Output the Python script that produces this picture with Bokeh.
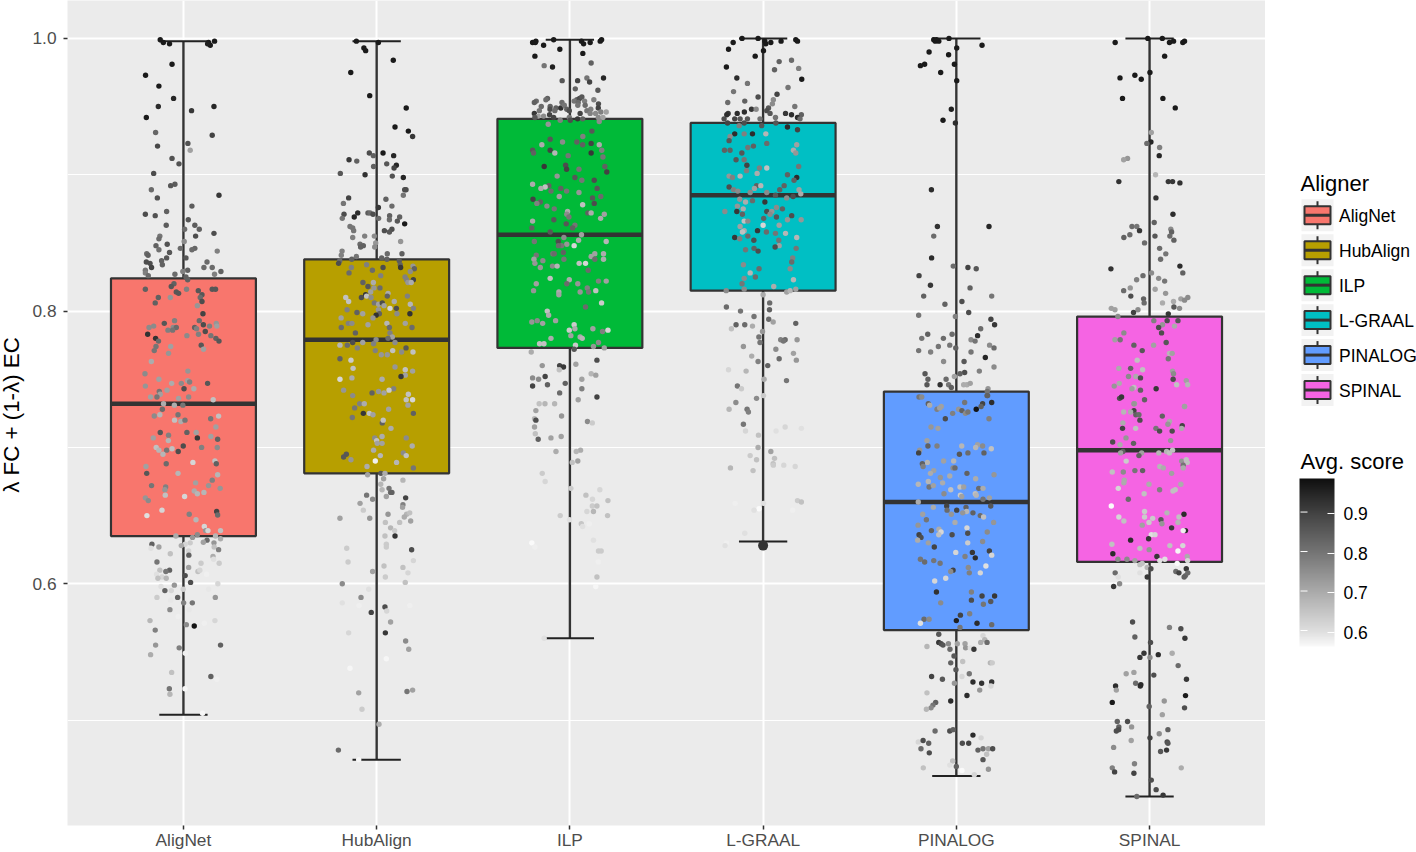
import numpy as np
from math import pi
from bokeh.plotting import figure
from bokeh.layouts import row
from bokeh.models import (ColumnDataSource, LinearColorMapper, ColorBar, FixedTicker, Range1d)
from bokeh.core.properties import value
from bokeh.embed import file_html
from bokeh.resources import INLINE

aligners = ["AligNet", "HubAlign", "ILP", "L-GRAAL", "PINALOG", "SPINAL"]
box_colors = ["#F8766D", "#B79F00", "#00BA38", "#00BFC4", "#619CFF", "#F564E3"]
q1 = [0.635, 0.681, 0.773, 0.815, 0.566, 0.616]
median = [0.732, 0.779, 0.856, 0.885, 0.660, 0.698]
q3 = [0.824, 0.838, 0.941, 0.938, 0.741, 0.796]
whisker_low = [0.504, 0.471, 0.560, 0.631, 0.459, 0.444]
whisker_high = [0.998, 0.998, 0.999, 1.000, 1.000, 1.000]
outlier_x = [3]
outlier_y = [0.628]
y_ticks = [0.6, 0.8, 1.0]
y_minor = [0.5, 0.7, 0.9]
score_ticks = [0.6, 0.7, 0.8, 0.9]

# jittered points: (offset from category centre, value, average score)
alignet_points = [
(-.12,.999,.97),(-.104,.997,.97),(-.072,.996,.97),(.13,.997,.97),(.139,.995,.97),(.161,.998,.97),(.125,.996,.96),
(-.059,.981,.97),(-.196,.973,.97),(-.127,.965,.97),(-.051,.956,.95),(-.13,.95,.94),(.158,.95,.95),(.042,.947,.92),(-.192,.942,.97),
(-.144,.931,.83),(.149,.929,.9),(-.134,.921,.89),(.023,.923,.87),(.035,.918,.72),(-.059,.912,.87),(-.023,.908,.87),(-.154,.901,.88),
(-.044,.893,.85),(-.066,.892,.86),(-.166,.889,.82),(.184,.885,.92),(-.135,.883,.87),(.044,.877,.85),(-.087,.873,.84),(-.197,.871,.88),
(-.146,.87,.87),(.025,.867,.86),(-.089,.863,.85),(.059,.863,.85),(.006,.86,.82),(.082,.86,.84),(-.122,.855,.8),(-.127,.853,.82),
(.063,.855,.88),(.158,.857,.88),(.004,.851,.76),(-.084,.849,.87),(-.142,.848,.84),(-.127,.845,.81),(-.016,.846,.82),(.059,.846,.83),
(.044,.845,.82),(.175,.844,.78),(-.072,.843,.86),(-.19,.842,.82),(-.183,.841,.84),(.013,.839,.86),(-.087,.839,.86),(-.113,.837,.84),
(.122,.836,.82),(-.192,.836,.88),(-.173,.835,.88),(-.109,.834,.84),(-.165,.832,.9),(.106,.832,.82),(.149,.832,.82),(-.197,.83,.8),
(.022,.83,.84),(-.003,.829,.78),(.194,.829,.84),(-.197,.828,.78),(-.182,.826,.82),(-.044,.827,.82),(.161,.827,.78),(.013,.825,.84),(.022,.823,.84),
(-.197,.816,.84),(-.049,.82,.84),(-.063,.818,.86),(.016,.816,.78),(.077,.815,.86),(.149,.816,.86),(.166,.816,.86),(-.037,.814,.86),(-.025,.813,.86),
(.096,.812,.86),(.087,.81,.82),(-.13,.81,.84),(-.068,.81,.74),(.096,.807,.88),(-.146,.806,.84),(.072,.804,.74),(.101,.798,.9),(-.046,.793,.78),
(.082,.793,.82),(-.099,.791,.86),(.103,.79,.88),(.17,.791,.74),(.173,.789,.72),(.135,.789,.78),(-.178,.788,.76),(-.154,.789,.76),(.058,.788,.84),
(.068,.787,.78),(-.053,.788,.76),(-.037,.788,.82),(-.08,.786,.78),(-.056,.786,.8),(.113,.785,.88),(-.185,.783,.93),(.078,.783,.78),(.018,.782,.76),
(.142,.782,.8),(-.144,.78,.93),(.168,.78,.84),(.184,.778,.86),(-.129,.778,.82),(.092,.775,.86),(-.066,.774,.72),(-.142,.774,.8),(-.151,.771,.8),
(.104,.772,.72),(-.077,.769,.74),(-.166,.763,.7),(.023,.756,.74),(-.199,.754,.76),(-.127,.75,.72),(.022,.749,.72),(.032,.748,.78),(-.011,.747,.76),
(-.061,.747,.7),(.125,.747,.86),(-.197,.745,.74),(.003,.743,.88),(.054,.743,.7),(-.085,.742,.72),(-.125,.741,.8),(-.12,.739,.72),(-.137,.737,.8),
(-.17,.737,.72),(.027,.737,.76),(-.025,.736,.72),(.154,.735,.66),
(-.103,.732,.7),(-.047,.731,.7),(-.003,.731,.8),(-.109,.728,.82),(-.151,.723,.76),(-.122,.724,.68),(-.028,.724,.8),(.141,.721,.8),(.182,.723,.66),
(-.046,.72,.66),(-.013,.719,.7),(.008,.72,.8),(.168,.715,.72),(-.12,.711,.86),(-.077,.709,.78),(.018,.711,.84),(.066,.711,.72),(.142,.708,.72),
(-.156,.707,.72),(-.078,.705,.68),(.072,.707,.92),(.177,.706,.84),(-.141,.7,.66),(-.127,.698,.68),(-.087,.698,.8),(-.059,.699,.66),(-.027,.697,.88),
(-.001,.701,.88),(.094,.7,.78),(.175,.7,.76),(-.106,.695,.68),(.049,.689,.62),(.163,.69,.66),(.17,.688,.84),(-.089,.688,.82),(-.194,.686,.72),
(-.19,.681,.86),(-.028,.681,.68),(.177,.68,.68),(.149,.676,.78),(.063,.674,.72),(-.165,.672,.8),(-.092,.671,.78),(-.096,.669,.74),(.13,.672,.74),
(.19,.67,.74),(.056,.668,.7),(.072,.666,.68),(.106,.667,.68),(-.094,.665,.66),(.006,.664,.62),(-.197,.663,.74),(-.182,.661,.76),(-.111,.654,.62),
(.172,.653,.9),(.177,.6504,.82),(.03,.651,.78),(-.189,.65,.6),(.065,.647,.68),(.108,.642,.62),(.115,.639,.74),(.127,.639,.62),(.192,.639,.66),
(-.039,.635,.7),(.166,.635,.68),(.072,.636,.76),(.047,.634,.74),(.192,.633,.7),(.122,.632,.82),(.103,.6304,.72),(.158,.63,.74),(.159,.627,.66),
(.182,.625,.78),(.035,.63,.64),(.009,.629,.62),(-.011,.628,.7),(-.163,.629,.84),(-.127,.627,.72),(-.168,.626,.6),(.027,.624,.62),(-.068,.622,.66),
(.028,.621,.84),(.153,.62,.7),(.156,.618,.6),(-.137,.616,.8),(.091,.615,.64),(.185,.615,.64),(.027,.612,.72),(-.072,.61,.84),(-.091,.609,.8),
(-.122,.61,.66),(.075,.609,.66),(.085,.61,.62),(-.139,.607,.6),(.009,.606,.88),(.12,.607,.58),(-.111,.605,.62),(-.132,.604,.66),(-.089,.604,.68),
(.037,.601,.88),(.178,.6,.62),(-.047,.599,.74),(-.116,.598,.6),(-.001,.596,.63),(.13,.596,.59),(-.096,.595,.84),(-.063,.595,.62),(-.03,.59,.84),
(-.137,.59,.64),(-.066,.588,.59),(.165,.59,.74),(.001,.586,.78),(.046,.586,.8),(-.07,.581,.76),(.03,.581,.59),(-.027,.576,.58),(-.173,.573,.68),
(.163,.573,.62),(.108,.571,.58),(.015,.57,.76),(.056,.569,.98),(-.146,.566,.78),(-.144,.555,.74),(.192,.555,.84),(-.022,.553,.78),(-.17,.548,.7),
(.01,.549,.58),(-.061,.535,.66),(.142,.532,.84),(.173,.53,.58),(.008,.523,.57),(-.073,.523,.8),(-.07,.519,.68),(.099,.505,.57),
]
hubalign_points = [
(-.105,.998,.97),(.009,.997,.97),(-.066,.993,.97),(-.057,.991,.97),(.086,.984,.97),(-.134,.975,.97),(-.036,.958,.97),(.153,.949,.97),(.095,.935,.97),
(.164,.932,.97),(.186,.928,.92),(.033,.916,.97),(-.038,.916,.88),(-.017,.914,.84),(.088,.914,.95),(-.143,.911,.92),(-.103,.91,.84),(.052,.908,.86),
(.102,.907,.95),(.09,.905,.9),(-.016,.906,.84),(-.188,.901,.86),(-.06,.9,.93),(.081,.899,.87),(.138,.898,.95),(.152,.889,.88),(.145,.889,.88),
(.138,.885,.8),(-.145,.883,.9),(.048,.882,.84),(-.172,.879,.8),(.079,.877,.82),(.009,.876,.92),(-.045,.872,.85),(-.034,.872,.82),(-.098,.872,.94),
(-.169,.871,.88),(-.019,.871,.88),(.067,.87,.84),(-.116,.869,.95),(-.178,.868,.8),(.01,.868,.82),(.066,.867,.82),(.119,.869,.84),(.107,.866,.86),
(.145,.864,.97),(-.138,.862,.8),(-.124,.861,.8),(-.119,.859,.8),(.079,.86,.88),(.04,.859,.88),(.066,.858,.86),(-.062,.855,.78),(-.012,.855,.76),
(-.124,.854,.78),(.124,.851,.74),(-.086,.849,.82),(-.069,.848,.84),(-.083,.847,.84),(-.005,.85,.74),(-.01,.847,.76),(-.179,.844,.78),(.131,.842,.84),
(.055,.842,.82),(-.105,.84,.8),(-.183,.841,.78),(-.129,.838,.84),(.026,.839,.84),(.053,.838,.84),(-.191,.837,.82),(-.197,.835,.88),(.117,.837,.85),
(.122,.834,.84),(.124,.832,.92),
(-.052,.834,.78),(.188,.833,.74),(-.131,.832,.78),(-.022,.83,.82),(.033,.832,.88),(.195,.831,.84),(.174,.829,.76),(-.143,.828,.82),(.021,.826,.78),
(.147,.825,.78),(.155,.823,.78),(.162,.821,.74),(.19,.823,.9),(.179,.821,.7),(-.071,.821,.84),(-.017,.821,.7),(-.045,.818,.86),(.017,.817,.82),
(-.014,.817,.74),(-.031,.814,.72),(.059,.813,.7),(-.057,.812,.92),(-.052,.811,.66),(-.029,.81,.76),(-.079,.81,.88),(.055,.811,.84),(.159,.811,.78),
(-.16,.81,.66),(-.145,.807,.66),(.091,.807,.7),(-.012,.806,.8),(.01,.805,.72),(.029,.806,.88),(.038,.804,.72),(.174,.805,.68),(.069,.802,.62),
(.102,.802,.88),(.19,.802,.78),(-.153,.801,.78),(.009,.801,.74),(-.102,.799,.84),(-.072,.798,.72),(.014,.798,.84),(.105,.798,.76),(.172,.798,.93),
(-.003,.797,.93),(-.184,.795,.72),(-.019,.795,.74),(.053,.791,.68),(-.147,.791,.78),(-.128,.791,.76),(.148,.791,.72),(-.045,.79,.72),(.066,.788,.82),
(-.183,.788,.82),(.183,.788,.82),(.069,.784,.78),(-.11,.784,.84),(.081,.781,.72),(.059,.78,.82),(-.003,.779,.76),(-.072,.777,.72),(-.124,.777,.88),
(.095,.777,.76),(-.19,.775,.68),(-.152,.775,.82),(-.016,.776,.78),(-.1,.773,.78),(.152,.773,.86),(-.007,.771,.78),(.083,.771,.66),(.129,.77,.76),
(.188,.77,.66),(.024,.768,.74),(.055,.768,.74),(-.19,.765,.84),(-.133,.764,.64),(-.122,.758,.66),(.095,.759,.74),(.148,.757,.66),(.186,.756,.72),
(.148,.753,.72),(.126,.752,.92),(-.19,.75,.62),(-.128,.751,.7),(.028,.75,.7),(-.171,.742,.74),(.088,.743,.78),(.064,.742,.64),(.01,.741,.74),
(-.024,.74,.84),(.038,.74,.72),(-.124,.738,.76),(.164,.739,.66),(.153,.735,.66),(.186,.735,.62),
(-.114,.729,.8),(-.088,.732,.78),(-.064,.732,.7),(.062,.728,.72),(.162,.731,.72),(-.069,.725,.92),(-.038,.725,.66),(-.019,.724,.72),(-.126,.722,.8),
(.19,.725,.84),(.029,.718,.84),(.034,.72,.66),(.074,.714,.7),(.028,.708,.7),(-.01,.707,.76),(.153,.707,.76),(0,.705,.66),(.003,.703,.72),(.028,.703,.72),
(.184,.701,.7),(-.016,.698,.7),(.138,.696,.76),(-.157,.695,.86),(-.171,.693,.86),(.019,.694,.68),(.153,.694,.66),(-.133,.691,.74),(-.007,.69,.58),
(.103,.689,.68),(-.05,.686,.7),(.19,.685,.8),(.022,.681,.86),(-.047,.68,.72),(.043,.681,.7),(.036,.677,.72),(.136,.676,.68),(.021,.673,.68),(.064,.67,.8),
(.028,.669,.68),(.072,.667,.82),(.079,.667,.84),(-.052,.665,.8),(.05,.664,.72),(-.021,.662,.76),(.15,.663,.9),(-.086,.659,.72),(.136,.658,.78),(.134,.656,.72),
(-.069,.654,.64),(.059,.651,.74),(.155,.651,.68),(.171,.652,.66),(.143,.649,.7),(-.19,.648,.72),(-.036,.648,.74),(.176,.646,.72),(.119,.645,.66),
(.045,.645,.66),(.072,.641,.68),(.093,.639,.64),(.043,.635,.66),(.095,.635,.93),(.05,.629,.64),(.05,.627,.64),(-.155,.626,.64),(.181,.625,.88),(.19,.617,.62),
(-.148,.616,.64),(.038,.613,.66),(.136,.612,.66),(-.021,.609,.72),(.162,.608,.62),(.045,.605,.64),(-.178,.6,.76),(.148,.601,.66),(-.041,.596,.6),
(-.081,.59,.76),(-.178,.586,.6),(-.091,.584,.58),(.172,.584,.58),(.043,.583,.88),(.052,.58,.62),(-.028,.579,.9),(.072,.572,.72),(-.145,.564,.62),
(.045,.564,.92),(.15,.558,.76),(.166,.552,.72),(.05,.545,.57),(-.138,.538,.57),(.157,.521,.8),(.186,.522,.72),(-.093,.52,.72),(-.076,.508,.64),
(.012,.497,.7),(-.198,.478,.82),(-.093,.471,.57),
]
ilp_points = [
(-.084,.999,.97),(-.176,.998,.97),(-.193,.997,.97),(-.179,.997,.97),(-.136,.995,.97),(.06,.998,.97),(.071,.996,.97),(.105,.997,.97),(.157,.998,.97),(.164,.999,.97),
(-.052,.992,.97),(.067,.989,.97),(-.181,.987,.97),(.11,.982,.84),(-.133,.98,.8),(-.09,.979,.96),(.088,.971,.8),(.102,.968,.9),(.174,.971,.95),(-.04,.969,.86),
(.04,.969,.9),(.028,.963,.84),(.145,.962,.86),(-.116,.956,.84),(-.124,.955,.82),(.124,.955,.78),(-.174,.954,.82),(-.184,.953,.84),(.036,.955,.84),(.05,.956,.88),
(.062,.957,.86),(.022,.954,.8),(.043,.953,.82),(.076,.954,.78),(-.041,.953,.82),(.148,.952,.88),(-.148,.95,.82),(-.102,.95,.84),(-.072,.949,.84),(-.047,.949,.93),
(-.029,.951,.8),(-.016,.948,.84),(.041,.951,.8),(.079,.951,.82),(.147,.949,.9),(-.158,.947,.8),(-.103,.948,.88),(-.078,.947,.82),(.108,.948,.78),(.088,.947,.8),
(-.184,.945,.92),(-.003,.947,.88),(.053,.945,.9),(.105,.945,.78),(.133,.945,.76),(.16,.946,.78),(.188,.946,.72),(-.105,.944,.9),(-.164,.943,.72),(-.136,.943,.76),
(-.181,.942,.86),(-.084,.942,.9),(-.05,.94,.78),(-.003,.942,.8),(.04,.941,.92),(.066,.941,.84),(.147,.942,.76),(.171,.942,.72),(.002,.94,.88),(.152,.939,.76),
(-.112,.937,.74),(.114,.932,.86),(.067,.928,.78),(-.102,.926,.86),(-.038,.924,.76),(.036,.924,.84),(-.145,.922,.7),(.066,.922,.84),(.11,.923,.9),(.152,.922,.7),
(-.102,.918,.9),(-.193,.918,.86),(.165,.918,.78),(-.188,.916,.84),(-.078,.916,.68),(.11,.916,.92),(-.009,.914,.8),(.171,.913,.8),(-.133,.906,.92),(-.022,.907,.88),
(-.017,.904,.9),(.047,.904,.8),(.181,.906,.84),(.191,.902,.9),(-.066,.899,.74),(.026,.898,.86),(.062,.896,.8),(.126,.896,.88),(-.193,.893,.7),(-.109,.892,.84),
(-.128,.891,.66),(-.15,.89,.7),(-.047,.89,.84),(.141,.89,.86),(-.098,.888,.82),(-.017,.888,.8),(.047,.887,.74),(-.055,.884,.72),(.16,.884,.82),(.117,.883,.86),
(-.191,.882,.9),(-.153,.88,.84),(-.171,.879,.78),(.126,.879,.88),(.066,.878,.66),(-.119,.877,.76),(-.081,.875,.8),(-.012,.873,.7),(.093,.872,.84),(.11,.872,.7),
(.178,.871,.72),(-.016,.871,.76),(-.005,.869,.8),(.159,.868,.7),(-.083,.867,.86),(-.193,.866,.7),(-.019,.864,.86),(.026,.863,.8),(.014,.861,.84),(-.197,.861,.84),
(-.102,.858,.86),(.06,.856,.72),(-.031,.854,.76),(.045,.852,.7),(-.184,.851,.8),(.188,.851,.68),(-.06,.851,.88),(-.016,.849,.74),(-.043,.848,.8),(-.059,.848,.82),
(.022,.848,.62),(-.088,.842,.8),(-.081,.842,.82),(-.034,.843,.84),(-.174,.841,.8),(.129,.842,.72),(.11,.84,.72),(.174,.842,.7),(-.186,.838,.72),(-.14,.837,.76),
(-.031,.838,.8),(.129,.838,.82),(.174,.838,.7),(-.181,.835,.74),(.048,.835,.66),(.081,.835,.62),(-.153,.832,.74),(-.09,.833,.76),(-.066,.833,.68),(.095,.83,.82),
(-.102,.824,.66),(-.003,.823,.7),(-.174,.82,.72),(-.016,.82,.82),(.041,.82,.74),(.148,.822,.78),(.188,.822,.72),(.09,.817,.78),(-.188,.815,.74),(.097,.814,.8),
(.053,.814,.74),(.134,.815,.66),(-.057,.814,.7),(-.057,.812,.72),
(.164,.806,.64),(.081,.803,.82),(-.117,.8,.66),(-.11,.797,.7),(-.197,.792,.74),(-.169,.793,.76),(-.141,.791,.72),(-.074,.793,.72),(.022,.79,.64),(-.003,.786,.64),
(.026,.787,.7),(.119,.787,.72),(.169,.785,.78),(.197,.786,.62),(.005,.782,.72),(.053,.781,.7),(.064,.78,.68),(-.098,.78,.7),(-.157,.776,.66),(-.134,.776,.66),
(.029,.775,.64),(.148,.777,.76),(.122,.774,.74),(.022,.772,.86),(.178,.773,.72),(-.2,.77,.7),(.14,.764,.88),(-.053,.76,.9),(-.033,.759,.92),(.031,.761,.72),
(-.143,.76,.74),(-.055,.757,.66),(-.193,.751,.76),(-.162,.75,.76),(-.128,.752,.9),(.11,.754,.68),(.134,.753,.72),(.062,.75,.72),(-.024,.747,.84),(-.193,.745,.9),
(-.116,.746,.84),(.062,.743,.78),(-.053,.74,.82),(.14,.737,.9),(.043,.735,.72),(-.159,.732,.66),(-.129,.732,.68),(-.079,.732,.68),(-.176,.727,.72),(-.043,.723,.74),
(-.183,.721,.68),(-.176,.72,.88),(.091,.719,.76),(.116,.718,.64),(-.183,.715,.72),(-.179,.71,.66),(-.164,.706,.84),(-.098,.707,.72),(-.045,.708,.72),(.055,.698,.7),
(.033,.697,.68),(-.072,.697,.7),(.041,.69,.72),(.012,.689,.66),(-.143,.681,.64),(-.128,.675,.62),(.005,.67,.64),(.155,.669,.62),(.083,.665,.66),(.117,.662,.62),
(.197,.661,.66),(.116,.657,.64),(.14,.657,.66),(.088,.653,.62),(.122,.653,.68),(-.05,.65,.64),(.195,.65,.66),(-.002,.647,.6),(.059,.644,.65),(.066,.642,.6),
(.1,.644,.58),(-.197,.63,.56),(-.181,.627,.58),(.122,.632,.6),(.148,.624,.64),(.162,.624,.64),(.147,.616,.58),(.14,.605,.66),(.134,.598,.57),(-.133,.56,.6),
]
lgraal_points = [
(-.109,1.0,.97),(-.026,1.0,.97),(-.155,.997,.97),(.009,.998,.97),(.014,.996,.97),(.04,.997,.97),(.093,.998,.97),(.169,.999,.97),(.178,.998,.97),(-.179,.992,.97),
(.002,.991,.97),(-.041,.987,.97),(-.19,.979,.97),(.083,.983,.84),(.147,.984,.82),(.059,.977,.84),(.184,.978,.78),(-.136,.971,.94),(.2,.97,.97),(-.081,.967,.8),
(-.153,.961,.8),(.129,.964,.8),(.072,.959,.9),(-.026,.957,.88),(.053,.955,.76),(-.183,.953,.82),(-.095,.954,.84),(.048,.952,.76),(.028,.949,.86),(.164,.95,.8),
(-.06,.948,.92),(-.036,.948,.76),(.019,.947,.88),(-.181,.945,.92),(-.188,.944,.94),(-.134,.945,.94),(-.097,.946,.94),(.036,.945,.86),(.116,.945,.92),(.198,.944,.84),
(.147,.944,.94),(.178,.942,.94),(-.202,.941,.88),(-.147,.941,.9),(-.119,.941,.86),(-.081,.941,.86),(-.016,.941,.8),(.064,.942,.8),(.191,.941,.82),(-.184,.938,.9),
(-.098,.938,.88),(.066,.938,.86),(.126,.935,.94),(.178,.933,.9),(-.124,.936,.78),(-.007,.936,.86),(-.147,.93,.94),(-.098,.93,.78),(-.055,.93,.94),(.014,.93,.68),
(-.171,.928,.76),(-.176,.925,.86),(.019,.923,.82),(.174,.922,.72),(-.079,.92,.8),(-.05,.921,.84),(-.2,.918,.84),(-.171,.918,.84),(.157,.918,.7),(-.11,.916,.86),
(.169,.916,.74),(-.098,.911,.8),(-.14,.911,.86),(-.084,.907,.9),(.184,.906,.8),(.019,.905,.66),(-.019,.905,.78),(-.086,.903,.78),(-.031,.901,.7),(-.176,.899,.74),
(-.119,.899,.68),(-.159,.898,.78),(.126,.9,.84),(.174,.898,.94),(.16,.896,.84),(.109,.892,.84),(-.176,.891,.88),(-.034,.892,.84),(-.012,.892,.68),(.086,.889,.84),
(-.153,.889,.78),(-.131,.888,.76),(-.067,.887,.76),(-.045,.89,.72),(.019,.887,.76),(.186,.889,.72),(.195,.886,.7),(.064,.885,.86),(.122,.883,.76),(.155,.884,.88),
(-.121,.882,.74),(-.091,.88,.7),(-.055,.881,.82),(.009,.88,.92),(-.133,.877,.74),(-.103,.875,.7),(.069,.876,.76),(.1,.875,.84),(-.198,.873,.76),(-.136,.873,.92),
(.019,.873,.88),(.045,.873,.74),(-.107,.871,.84),(.036,.871,.76),(.069,.869,.86),(.148,.87,.88),(.003,.868,.84),(.126,.867,.74),(.197,.867,.74),(-.098,.866,.66),
(-.079,.866,.76),(-.119,.862,.72),(0,.863,.62),(.083,.863,.72),(-.029,.859,.92),(-.098,.859,.7),(-.107,.858,.66),(.017,.858,.82),(.064,.857,.8),(.116,.857,.68),
(-.147,.854,.92),(-.121,.853,.78),(-.079,.855,.82),(.174,.854,.68),(-.048,.852,.88),(.081,.852,.8),(.083,.848,.72),(.062,.847,.88),(-.091,.845,.8),(-.047,.846,.84),
(.171,.846,.8),(-.026,.844,.88),(.153,.839,.78),(.148,.836,.82),(-.102,.834,.76),(.14,.831,.76),(-.021,.831,.82),(-.067,.828,.68),(-.04,.825,.82),(-.098,.824,.76),
(.157,.823,.68),(-.109,.82,.8),(-.098,.816,.76),(-.191,.815,.76),(.055,.818,.7),(.169,.816,.72),(.122,.814,.72),(.14,.815,.68),(0,.812,.7),
(.034,.806,.82),(.033,.801,.84),(-.19,.803,.82),(-.117,.8,.8),(-.047,.796,.8),(.029,.794,.82),(.052,.792,.72),(.169,.791,.84),(-.14,.79,.84),(-.095,.79,.82),
(-.055,.789,.7),(-.164,.787,.66),(-.003,.785,.74),(-.022,.781,.8),(-.016,.777,.8),(.091,.779,.78),(.114,.779,.82),(.105,.778,.8),(.176,.779,.74),(-.102,.774,.74),
(.066,.772,.76),(.157,.769,.72),(-.059,.767,.7),(-.026,.763,.78),(.083,.765,.82),(.172,.764,.74),(.024,.76,.84),(-.179,.757,.62),(-.088,.756,.68),(.005,.75,.7),
(.121,.749,.8),(-.133,.745,.8),(-.112,.743,.64),(.002,.738,.64),(-.034,.736,.76),(-.141,.733,.76),(-.176,.728,.68),(-.083,.728,.8),(-.076,.726,.78),(-.102,.717,.8),
(-.091,.712,.62),(.114,.715,.62),(.198,.714,.6),(.067,.712,.6),(-.024,.709,.66),(-.026,.7,.7),(.04,.697,.72),(-.067,.694,.64),(.059,.692,.66),(-.034,.691,.66),
(.052,.688,.66),(.053,.687,.64),(.107,.687,.62),(.166,.686,.62),(-.169,.685,.68),(-.052,.683,.66),(-.145,.659,.58),(.002,.659,.6),(.178,.661,.64),(.198,.66,.66),
(-.021,.655,.56),(-.047,.654,.6),(.153,.654,.58),(-.095,.637,.6),(-.19,.63,.58),(-.197,.628,.6),
]
pinalog_points = [
(-.038,1.0,.97),(-.117,.999,.97),(-.109,.998,.97),(-.091,.998,.97),(-.103,.999,.97),(.002,.993,.97),(.133,.995,.97),(-.141,.99,.97),(-.04,.988,.97),(-.01,.981,.97),
(-.164,.981,.97),(-.186,.98,.97),(-.081,.975,.97),(.002,.969,.97),(-.026,.948,.96),(-.069,.94,.97),(-.005,.938,.94),(-.129,.889,.94),(-.098,.862,.93),(.169,.862,.95),
(-.117,.855,.82),(-.128,.839,.94),(-.016,.833,.82),(.06,.832,.9),(.103,.831,.86),(-.193,.826,.9),(-.134,.819,.92),(.071,.817,.84),(-.169,.811,.84),(.183,.811,.8),
(.029,.807,.88),(-.059,.805,.84),(.064,.799,.88),(-.195,.797,.8),(-.005,.796,.78),(.179,.794,.9),(.198,.79,.92),(.126,.787,.82),(-.148,.783,.84),(-.022,.783,.82),
(.11,.782,.94),(-.179,.78,.8),(-.067,.78,.82),(.076,.779,.76),(.097,.778,.8),(-.034,.775,.8),(.172,.775,.76),(-.093,.774,.8),(-.003,.773,.84),(.195,.773,.82),
(-.195,.771,.8),(-.133,.77,.78),(.076,.77,.8),(.15,.766,.95),(-.066,.763,.76),(.04,.763,.86),(.195,.759,.76),(.119,.756,.78),(.043,.755,.88),(-.162,.754,.86),
(.019,.754,.84),(-.01,.752,.72),(-.147,.75,.84),(-.053,.75,.82),(-.152,.746,.86),(-.084,.746,.93),(-.04,.746,.8),(-.026,.744,.84),(.038,.746,.7),(.055,.746,.7),
(.072,.747,.72),(.164,.743,.74),(.16,.741,.8),(.159,.738,.84),
(-.193,.737,.8),(-.179,.737,.76),(.162,.738,.84),(-.145,.732,.84),(-.138,.731,.7),(.043,.733,.8),(.136,.732,.9),(.183,.733,.94),(-.078,.73,.72),(-.1,.728,.78),
(-.086,.729,.72),(.128,.73,.84),(.012,.728,.74),(.029,.727,.84),(.047,.725,.76),(.06,.726,.8),(.103,.728,.98),(-.019,.725,.78),(-.057,.721,.88),(.169,.721,.78),
(-.131,.715,.74),(-.095,.714,.72),(-.152,.705,.72),(-.147,.701,.84),(-.1,.701,.78),(.028,.701,.68),(.11,.702,.72),(.1,.7,.68),(.136,.701,.76),(.181,.699,.66),
(-.19,.698,.74),(-.195,.696,.9),(.06,.696,.82),(.016,.695,.86),(.143,.696,.84),(-.066,.69,.72),(-.014,.69,.68),(-.15,.689,.68),(-.176,.688,.84),(-.172,.686,.78),
(-.017,.685,.76),(-.007,.685,.82),(-.117,.683,.72),(-.134,.681,.7),(-.034,.679,.7),(.055,.681,.84),(.195,.68,.74),(-.083,.678,.74),(.1,.677,.7),(-.145,.675,.68),
(-.071,.674,.7),(-.197,.673,.68),(-.141,.671,.8),(-.119,.672,.72),(.019,.671,.66),(.038,.671,.72),(.116,.67,.82),(.138,.67,.7),(-.029,.669,.66),(-.064,.666,.76),
(.098,.666,.66),(.103,.665,.68),(.021,.665,.64),(.028,.664,.72),(.138,.662,.8),(.171,.663,.72),(-.197,.66,.7),(-.05,.657,.9),(-.048,.654,.82),(-.119,.656,.7),
(.002,.654,.9),(.05,.656,.84),(.178,.657,.86),(.053,.653,.68),(.086,.652,.84),(-.174,.651,.72),(-.155,.647,.8),(-.026,.651,.74),(.033,.652,.74),(.124,.65,.82),
(.141,.649,.66),(.193,.645,.74),(-.007,.645,.7),(-.198,.643,.74),(.055,.641,.62),(-.129,.639,.84),(-.09,.64,.7),(-.079,.638,.62),(-.091,.636,.66),(-.193,.636,.9),
(-.183,.634,.88),(-.022,.636,.88),(.059,.637,.88),(.16,.638,.76),(-.2,.632,.7),(.136,.631,.76),(-.145,.63,.72),(.059,.63,.64),(-.114,.627,.9),(-.003,.623,.62),
(.083,.623,.92),(.171,.624,.9),(.183,.621,.62),(.045,.62,.78),(-.186,.618,.8),(-.164,.616,.82),(-.117,.617,.8),(-.084,.615,.8),(.098,.619,.94),(.153,.613,.6),
(.062,.612,.76),(-.017,.61,.9),(-.029,.609,.76),(.067,.608,.78),(.124,.608,.62),(-.055,.604,.62),(-.112,.602,.62),(-.103,.594,.93),(.078,.594,.78),(.133,.591,.9),
(.198,.591,.92),(.078,.588,.88),(.178,.587,.86),(.14,.585,.8),(-.081,.586,.76),(.069,.578,.78),(.021,.577,.9),(-.167,.574,.82),(-.141,.574,.76),(0,.573,.96),
(-.186,.571,.6),(.107,.571,.94),(.183,.57,.82),(.019,.568,.8),
(-.091,.563,.86),(.138,.562,.62),(.147,.559,.68),(-.091,.557,.92),(-.079,.556,.88),(-.069,.555,.86),(-.041,.556,.76),(.005,.556,.72),(.045,.556,.72),(.126,.557,.7),
(.159,.557,.82),(-.152,.554,.68),(.048,.553,.74),(.072,.553,.6),(.091,.552,.92),(-.033,.552,.82),(-.012,.547,.86),(.033,.543,.66),(.176,.542,.68),(.186,.542,.64),
(-.029,.542,.84),(-.002,.537,.86),(.067,.534,.8),(.029,.532,.62),(-.128,.532,.9),(-.072,.53,.86),(-.01,.527,.74),(.086,.528,.94),(.131,.527,.93),(.183,.528,.93),
(.179,.525,.62),(.121,.522,.74),(-.152,.52,.66),(.055,.518,.94),(-.029,.514,.94),(-.107,.513,.84),(-.121,.511,.8),(-.131,.509,.76),(-.155,.508,.68),(-.11,.492,.82),
(-.034,.492,.88),(-.017,.493,.84),(.086,.489,.94),(.128,.487,.62),(-.197,.484,.62),(-.172,.485,.88),(-.143,.483,.84),(.031,.483,.88),(.064,.483,.9),(-.183,.479,.82),
(-.14,.476,.88),(.112,.478,.84),(.138,.479,.8),(.166,.479,.72),(.188,.479,.88),(.157,.475,.66),(.138,.471,.86),(-.019,.47,.66),(-.171,.465,.66),(0,.466,.84),
(.166,.464,.74),(-.034,.467,.6),(.029,.463,.56),(.093,.46,.62),
]
spinal_points = [
(-.009,1.0,.97),(.066,1.0,.97),(-.178,.997,.97),(.103,.997,.97),(.124,.998,.97),(.172,.997,.97),(.181,.998,.97),(.078,.987,.97),(.002,.975,.97),(-.153,.971,.97),
(-.076,.973,.97),(-.043,.97,.97),(-.14,.956,.97),(.069,.956,.97),(.133,.949,.97),(.009,.931,.72),(.007,.924,.95),(-.014,.923,.82),(.052,.92,.78),(.05,.914,.95),
(-.114,.912,.74),(-.134,.911,.72),(.031,.9,.68),(-.159,.895,.93),(.097,.895,.92),(.119,.895,.92),(.157,.894,.93),(.033,.883,.93),(.121,.871,.94),(.024,.865,.84),
(-.091,.862,.82),(-.066,.862,.8),(-.052,.859,.92),(.11,.86,.76),(.114,.858,.84),(-.102,.856,.82),(.028,.855,.86),(.105,.855,.82),(-.133,.854,.84),(.126,.852,.84),
(-.026,.85,.82),(.052,.846,.82),(.084,.842,.8),(.057,.838,.82),(-.2,.831,.93),(.157,.833,.94),(.172,.828,.84),(.01,.828,.76),(-.034,.826,.82),(-.067,.823,.78),
(.047,.824,.76),(.078,.822,.8),(-.1,.817,.74),(-.134,.815,.82),(.029,.816,.72),(.083,.813,.74),(-.097,.811,.88),(-.031,.809,.84),(-.028,.806,.82),(.162,.809,.72),
(.198,.81,.76),(.124,.807,.7),(.067,.806,.7),(.181,.808,.76),(.126,.803,.86),(.155,.802,.76),(-.198,.802,.72),(-.179,.801,.72),(-.06,.801,.76),(-.083,.799,.9),
(-.164,.796,.76),(.097,.798,.92),
(.022,.793,.78),(.091,.793,.88),(.147,.793,.86),(.067,.79,.74),(.047,.788,.88),(.129,.789,.7),(.062,.784,.88),(-.133,.784,.76),(-.179,.779,.72),(-.152,.779,.8),
(.086,.777,.86),(-.081,.775,.84),(.021,.775,.72),(-.038,.771,.86),(.103,.769,.68),(.117,.769,.72),(.097,.765,.8),(-.064,.764,.66),(-.159,.758,.7),(-.098,.758,.84),
(-.036,.757,.66),(.119,.756,.72),(.124,.754,.76),(-.109,.752,.76),(-.071,.752,.7),(-.047,.751,.88),(.122,.75,.88),(.19,.749,.72),(-.157,.747,.7),(.14,.746,.66),
(.197,.746,.68),(-.183,.745,.74),(-.081,.744,.66),(-.091,.743,.72),(.034,.743,.92),(-.047,.742,.84),(-.155,.736,.88),(-.145,.737,.92),(-.026,.735,.84),(-.078,.732,.72),
(.181,.73,.7),(-.081,.732,.74),(.181,.73,.72),(-.081,.727,.9),(-.134,.726,.68),(-.098,.726,.7),(-.071,.724,.84),(-.055,.724,.82),(-.05,.72,.88),(.066,.723,.84),
(-.138,.718,.7),(.103,.719,.7),(.095,.717,.74),(-.14,.714,.9),(-.072,.714,.66),(.033,.714,.8),(.052,.712,.88),(.117,.712,.88),(.169,.716,.9),(.166,.714,.7),
(-.122,.707,.74),(.109,.705,.74),(-.191,.704,.88),(-.083,.703,.84),(-.153,.702,.7),(-.138,.697,.84),(-.15,.696,.72),(-.041,.696,.72),(-.055,.694,.84),(.048,.696,.68),
(.088,.697,.68),(.103,.696,.66),(.119,.698,.66),(-.121,.69,.64),(.166,.69,.74),(.19,.691,.66),(.195,.689,.66),(.174,.687,.8),(.174,.685,.7),(.053,.686,.68),
(.071,.685,.7),(-.193,.682,.66),(-.136,.682,.76),(-.076,.683,.8),(-.036,.683,.84),(.114,.681,.72),(-.131,.676,.7),(-.133,.674,.7),(-.003,.673,.7),(.162,.673,.7),
(-.162,.67,.62),(.052,.669,.78),(.133,.669,.66),(.121,.668,.66),(-.028,.666,.66),(-.11,.662,.82),(-.198,.657,.56),(-.026,.653,.64),(-.026,.649,.64),(-.159,.649,.62),
(.09,.652,.68),(.178,.651,.94),(.016,.648,.64),(.152,.649,.66),(.059,.647,.86),(-.133,.646,.66),(-.003,.645,.64),(.064,.644,.74),(.147,.645,.68),(-.038,.643,.72),
(.114,.641,.92),(.186,.639,.94),(.174,.639,.58),(.009,.636,.6),(.028,.636,.62),(-.098,.632,.94),(-.005,.633,.92),(-.195,.629,.66),(-.05,.626,.66),(.105,.628,.66),
(.172,.628,.62),(-.002,.625,.74),(.147,.624,.57),(-.19,.622,.94),(.038,.62,.92),(-.164,.618,.76),(-.117,.618,.76),(-.076,.617,.72),(.053,.617,.6),(.079,.618,.6),
(.195,.62,.7),(.197,.617,.62),(.143,.615,.56),(-.038,.615,.66),(-.05,.614,.66),(-.012,.612,.68),(.007,.611,.88),(.19,.611,.92),(-.05,.608,.6),(-.178,.608,.82),
(.136,.609,.82),(.152,.608,.9),(.198,.608,.82),(.186,.606,.82),(.179,.605,.84),(-.012,.605,.92),(-.162,.605,.6),(-.155,.6,.76),(-.186,.598,.92),(-.088,.572,.88),
(.103,.568,.78),(.162,.567,.88),(-.076,.561,.84),(.183,.56,.92),(.005,.557,.88),(-.029,.549,.92),(.045,.548,.94),(-.05,.546,.92),(.002,.546,.76),(.117,.549,.7),
(.148,.54,.82),(-.121,.534,.72),(-.081,.535,.72),(.022,.533,.88),(.191,.53,.92),(-.072,.527,.82),(-.045,.526,.94),(-.048,.525,.94),(-.176,.525,.94),(-.172,.522,.72),
(.186,.518,.97),(-.193,.513,.97),(.076,.514,.74),(-.002,.51,.84),(.181,.509,.88),(.066,.504,.72),(-.114,.499,.88),(-.167,.499,.84),(-.093,.495,.74),(-.159,.495,.84),
(-.16,.493,.88),(-.172,.492,.88),(.095,.493,.84),(.05,.49,.76),(.002,.487,.9),(-.095,.485,.72),(.091,.484,.88),(.095,.483,.86),(-.186,.48,.76),(.088,.478,.92),
(.057,.477,.86),(-.078,.468,.78),(-.193,.465,.78),(-.181,.462,.9),(.164,.465,.7),(-.081,.461,.9),(.009,.456,.88),(.034,.449,.88),(.07,.445,.92),(-.066,.444,.82),
]
all_points = [alignet_points, hubalign_points, ilp_points, lgraal_points, pinalog_points, spinal_points]

FONT = "Liberation Sans"
HEAD = "#333333"

score_low, score_high = 0.564, 0.989
stops = np.array([0.564, 0.6, 0.7, 0.8, 0.9, 0.989])
greys = np.array([250, 224, 172, 118, 68, 16])
levels = np.interp(np.linspace(score_low, score_high, 256), stops, greys).astype(int)
palette = ["#%02x%02x%02x" % (g, g, g) for g in levels]
mapper = LinearColorMapper(palette=palette, low=score_low, high=score_high)

# the y-axis title sits in a narrow figure of its own, so it can lie at the page's left edge
ylab = figure(width=28, height=852, x_range=Range1d(0, 28), y_range=Range1d(826, 0),
              output_backend="svg", toolbar_location=None, tools="",
              x_axis_location=None, y_axis_location=None,
              min_border_left=0, min_border_right=0, min_border_top=0, min_border_bottom=26,
              outline_line_color=None, border_fill_color="white", background_fill_color="white")
ylab.grid.visible = False
ylab.text([11], [415], text=["λ FC + (1-λ) EC"], angle=pi / 2, text_font=value(FONT), text_font_size="22.3px",
          text_align="center", text_baseline="middle", text_color="black")

p = figure(width=1237, height=852, x_range=Range1d(-0.6, 5.6), y_range=Range1d(0.4227, 1.0278),
           output_backend="svg", toolbar_location=None, tools="",
           min_border_left=39, min_border_right=0, min_border_top=0, min_border_bottom=26,
           background_fill_color="#EBEBEB", border_fill_color="white", outline_line_color=None)

xs = list(range(len(aligners)))
p.xaxis.ticker = FixedTicker(ticks=xs)
p.xaxis.major_label_overrides = {i: a for i, a in enumerate(aligners)}
p.yaxis.ticker = FixedTicker(ticks=y_ticks, minor_ticks=y_minor)
p.yaxis.major_label_overrides = {t: "%.1f" % t for t in y_ticks}
for ax in (p.xaxis[0], p.yaxis[0]):
    ax.axis_line_color = None
    ax.major_tick_line_color = HEAD
    ax.major_tick_line_width = 1.5
    ax.major_tick_out = 4
    ax.major_tick_in = 0
    ax.minor_tick_line_color = None
    ax.major_label_text_font = FONT
    ax.major_label_text_font_size = "17.3px"
    ax.major_label_text_color = "#4D4D4D"
    ax.major_label_standoff = 0
p.yaxis.major_label_standoff = 7

p.xgrid.grid_line_color = "white"
p.xgrid.grid_line_width = 2
p.ygrid.grid_line_color = "white"
p.ygrid.grid_line_width = 2
p.ygrid.minor_grid_line_color = "white"
p.ygrid.minor_grid_line_width = 1

WHISK = 0.125
p.segment(xs, whisker_low, xs, whisker_high, line_color=HEAD, line_width=2.4)
p.segment([x - WHISK for x in xs], whisker_low, [x + WHISK for x in xs], whisker_low, line_color="#222222", line_width=2)
p.segment([x - WHISK for x in xs], whisker_high, [x + WHISK for x in xs], whisker_high, line_color="#222222", line_width=2)
p.vbar(x=xs, width=0.75, bottom=q1, top=q3, fill_color=box_colors, line_color=HEAD, line_width=2.2)
p.segment([x - 0.375 for x in xs], median, [x + 0.375 for x in xs], median, line_color=HEAD, line_width=4.5)
p.scatter(outlier_x, outlier_y, size=10, fill_color=HEAD, line_color=None)

for i, pts in enumerate(all_points):
    src = ColumnDataSource(dict(x=[i + a for a, _, _ in pts], y=[b for _, b, _ in pts], s=[c for _, _, c in pts]))
    p.scatter("x", "y", source=src, size=5.4, line_color=None,
              fill_color={"field": "s", "transform": mapper})

# legends: a side figure whose ranges follow the page's pixels (its frame is aligned with the panel's)
lg = figure(width=151, height=852, x_range=Range1d(1265, 1416), y_range=Range1d(826, 0),
            output_backend="svg", toolbar_location=None, tools="",
            x_axis_location=None, y_axis_location=None,
            min_border_left=0, min_border_right=0, min_border_top=0, min_border_bottom=26,
            outline_line_color=None, border_fill_color="white", background_fill_color="white")
lg.grid.visible = False

rows = [215 + 35 * i for i in range(6)]
lg.quad(left=[1301] * 6, right=[1333] * 6, top=[r - 16 for r in rows], bottom=[r + 16 for r in rows],
        fill_color="#F2F2F2", line_color=None)
lg.segment([1317] * 6, [r - 14 for r in rows], [1317] * 6, [r + 14 for r in rows], line_color=HEAD, line_width=2)
lg.quad(left=[1304] * 6, right=[1330] * 6, top=[r - 9 for r in rows], bottom=[r + 9 for r in rows],
        fill_color=box_colors, line_color=HEAD, line_width=2)
lg.segment([1304] * 6, rows, [1330] * 6, rows, line_color=HEAD, line_width=3)
lg.text([1338.5] * 6, [r + 1 for r in rows], text=aligners, text_font=value(FONT), text_font_size="17.5px",
        text_baseline="middle", text_color="black")
lg.text([1300, 1300], [183.5, 462], text=["Aligner", "Avg. score"], text_font=value(FONT), text_font_size="22px",
        text_baseline="alphabetic", text_color="black")

bar = ColorBar(color_mapper=mapper, location=(34, 179), width=35, height=168, padding=0, margin=0,
               ticker=FixedTicker(ticks=score_ticks), major_tick_line_color="white", major_tick_line_width=1,
               major_tick_in=7, major_tick_out=0, minor_tick_line_color=None, bar_line_color=None,
               border_line_color=None, background_fill_color=None, label_standoff=9,
               major_label_text_font=FONT, major_label_text_font_size="17.5px", major_label_text_color="black",
               major_label_overrides={t: "%.1f" % t for t in score_ticks})
lg.add_layout(bar)
bar_y = [645 - (t - score_low) / (score_high - score_low) * 168 for t in score_ticks]
lg.segment([1300] * 4, bar_y, [1307] * 4, bar_y, line_color="white", line_width=1, level="overlay")

page = row(ylab, p, lg, spacing=0)
open("out.html", "w").write(file_html(page, INLINE))
